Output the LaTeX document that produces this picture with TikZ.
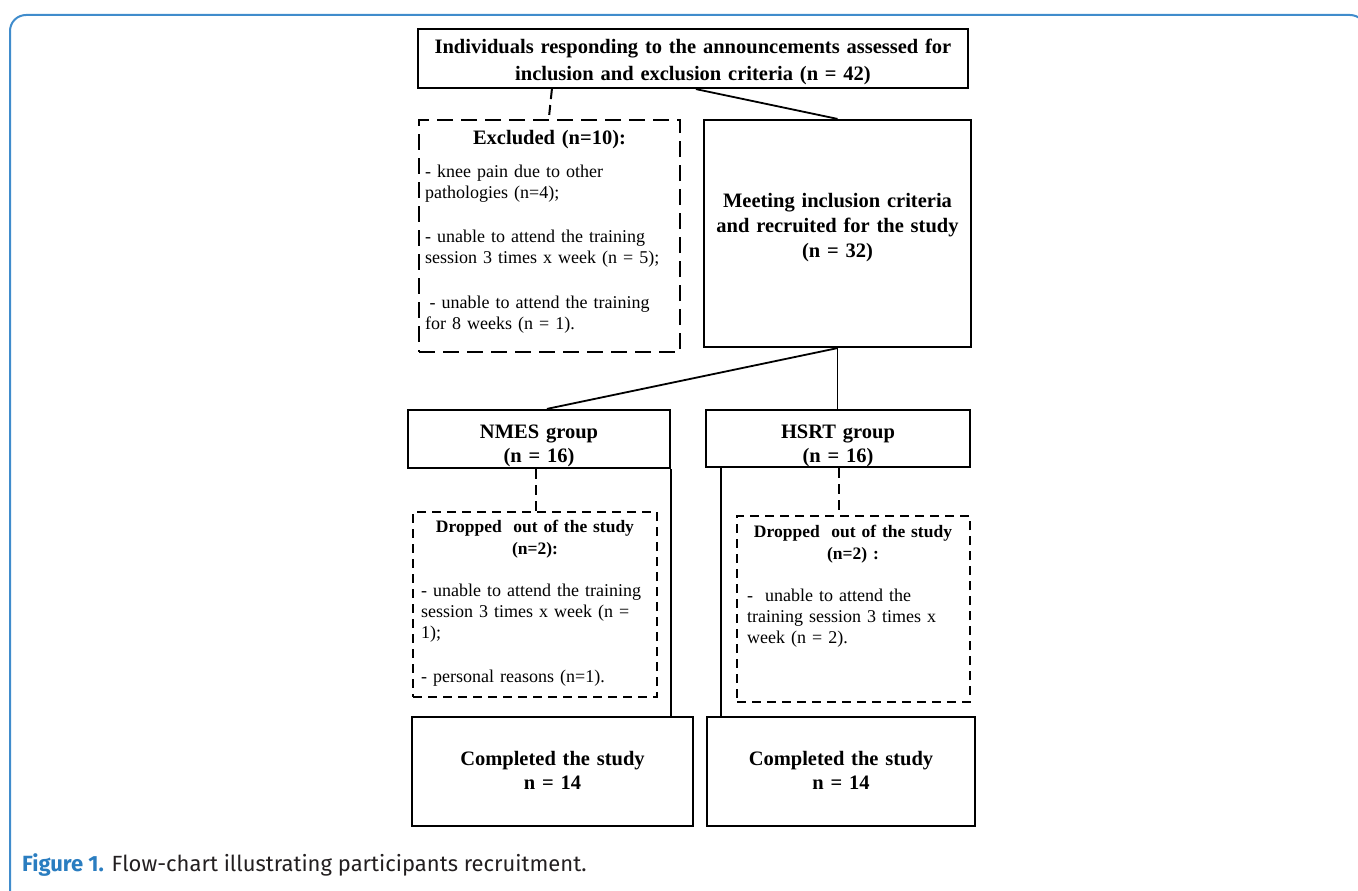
\documentclass[tikz,border=0pt]{standalone}
\usepackage{fontspec}
\setmainfont{Liberation Serif}
\newfontfamily\capfont{Fira Sans}
\usetikzlibrary{calc}
\definecolor{frameblue}{RGB}{64,140,204}
\definecolor{capblue}{RGB}{42,125,192}
\definecolor{captext}{RGB}{35,31,32}
\begin{document}
\begin{tikzpicture}[x=1pt,y=-1pt,
  box/.style={draw, line width=2.2pt, inner sep=0pt},
  exbox/.style={draw, line width=2.4pt, dash pattern=on 16pt off 8pt, inner sep=0pt},
  dropbox/.style={draw, line width=2pt, dash pattern=on 9pt off 6pt, inner sep=0pt},
  link/.style={line width=1.8pt},
  dlink/.style={line width=2pt, dash pattern=on 10pt off 6pt},
  hd/.style={font=\bfseries\fontsize{20.5}{#1}\selectfont, text width=560pt, align=center, anchor=base, inner sep=0pt},
  hd/.default=24,
  dt/.style={font=\bfseries\fontsize{17.5}{22}\selectfont, text width=300pt, align=center, anchor=base, inner sep=0pt},
  bd/.style={font=\fontsize{18}{21}\selectfont, text width=320pt, align=left, anchor=base west, inner sep=0pt}
]
\useasboundingbox (0,0) rectangle (1358,891);
\clip (0,0) rectangle (1358,891);
\draw[frameblue, line width=2pt, rounded corners=16pt] (10,15) rectangle (1366,905);

% boxes
\node[box, minimum width=550, minimum height=59] (top) at (693,58.5) {};
\node[exbox, minimum width=261, minimum height=232] (exc) at (549.5,236) {};
\node[box, minimum width=267, minimum height=227] (meet) at (837.5,233.5) {};
\node[box, minimum width=262, minimum height=58] (nmes) at (539,439) {};
\node[box, minimum width=264, minimum height=57] (hsrt) at (838,438.5) {};
\node[dropbox, minimum width=244, minimum height=185] (dropN) at (535,604.5) {};
\node[dropbox, minimum width=233, minimum height=186] (dropH) at (853.5,609) {};
\node[box, minimum width=281, minimum height=109] (compN) at (552.5,771.5) {};
\node[box, minimum width=268, minimum height=109] (compH) at (841,771.5) {};

% texts
\node[hd=27] (toptext) at (693,54) {Individuals responding to the announcements assessed for\\inclusion and exclusion criteria (n = 42)};
\node[hd] (exctitle) at (549.5,144) {Excluded (n=10):};
\node[bd] (excbody) at (425,177) {- knee pain due to other\\pathologies (n=4);\\[23.5pt]- unable to attend the training\\session 3 times x week (n = 5);\\[23.5pt]\hspace*{0.25em}- unable to attend the training\\for 8 weeks (n = 1).};
\node[hd=25] (meettext) at (837.5,207) {Meeting inclusion criteria\\and recruited for the study\\(n = 32)};
\node[hd] (nmestext) at (539,438) {NMES group\\(n = 16)};
\node[hd] (hsrttext) at (838,438) {HSRT group\\(n = 16)};
\node[dt] (dropNtitle) at (535,532) {Dropped\ \ out of the study\\(n=2):};
\node[bd] (dropNbody) at (421,596) {- unable to attend the training\\session 3 times x week (n =\\1);\\[23pt]- personal reasons (n=1).};
\node[dt] (dropHtitle) at (853,537) {Dropped\ \ out of the study\\(n=2) :};
\node[bd] (dropHbody) at (747,601) {-\ \ unable to attend the\\training session 3 times x\\week (n = 2).};
\node[hd] (compNtext) at (552.5,765) {Completed the study\\n = 14};
\node[hd] (compHtext) at (841,765) {Completed the study\\n = 14};

% connectors
\draw[dlink] ([xshift=135pt]top.south west) -- ([xshift=131pt]exc.north west);
\draw[link] ([xshift=279pt]top.south west) -- (meet.north);
\draw[link] (meet.south) -- ([xshift=140pt]nmes.north west);
\draw[link] (meet.south) -- (meet.south |- hsrt.north);
\draw[dlink] ([xshift=129pt]nmes.south west) -- ([xshift=129pt]nmes.south west |- dropN.north);
\draw[link] (nmes.south east) -- (nmes.south east |- compN.north);
\draw[link] ([xshift=16pt]hsrt.south west) -- ([xshift=16pt]hsrt.south west |- compH.north);
\draw[dlink] ([xshift=134pt]hsrt.south west) -- ([xshift=134pt]hsrt.south west |- dropH.north);

% caption
\node[anchor=base west, inner sep=0pt, font=\capfont\fontsize{22}{26}\selectfont, text=captext] (cap) at (22,871) {{\color{capblue}\bfseries Figure 1.} Flow-chart illustrating participants recruitment.};
\end{tikzpicture}
\end{document}
